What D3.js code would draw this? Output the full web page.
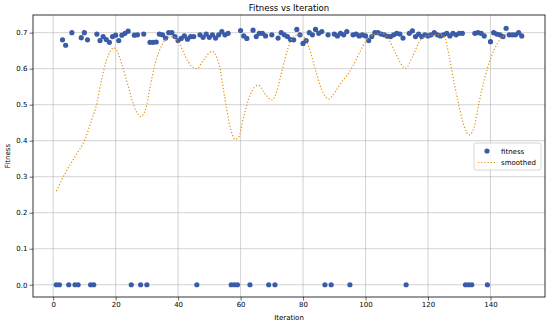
<!DOCTYPE html>
<html>
<head>
<meta charset="utf-8">
<script src="https://cdn.jsdelivr.net/npm/d3@7"></script>
<style>
  body { margin: 0; background: #fff; }
  text { font-family: "DejaVu Sans", sans-serif; fill: #000; }
</style>
</head>
<body>
<svg id="chart" width="550" height="325"></svg>
<script>
// fitness per iteration (1..150)
const fitness = [
  0, 0, 0.680, 0.665, 0, 0.700, 0, 0, 0.686, 0.700,
  0.680, 0, 0, 0.696, 0.678, 0.689, 0.681, 0.673, 0.689, 0.693,
  0.678, 0.693, 0.698, 0.704, 0, 0.693, 0.694, 0, 0.696, 0,
  0.673, 0.673, 0.674, 0.696, 0.694, 0.685, 0.700, 0.700, 0.689, 0.678,
  0.684, 0.691, 0.682, 0.689, 0.689, 0, 0.694, 0.687, 0.696, 0.687,
  0.694, 0.685, 0.694, 0.703, 0.694, 0.698, 0, 0, 0, 0.706,
  0.691, 0.684, 0, 0.707, 0.689, 0.698, 0.698, 0.691, 0, 0.694,
  0, 0.685, 0.700, 0.694, 0.689, 0.681, 0.680, 0.709, 0.694, 0.670,
  0.678, 0.700, 0.694, 0.709, 0.698, 0.703, 0, 0.694, 0, 0.696,
  0.691, 0.698, 0.694, 0.703, 0, 0.694, 0.696, 0.691, 0.694, 0.691,
  0.678, 0.689, 0.700, 0.700, 0.696, 0.694, 0.690, 0.689, 0.694, 0.698,
  0.696, 0.685, 0, 0.698, 0.705, 0.689, 0.696, 0.689, 0.694, 0.691,
  0.694, 0.700, 0.694, 0.691, 0.694, 0.698, 0.691, 0.698, 0.694, 0.698,
  0.698, 0, 0, 0, 0.698, 0.700, 0.698, 0.691, 0, 0.675,
  0.700, 0.696, 0.694, 0.689, 0.712, 0.694, 0.694, 0.694, 0.700, 0.691
];
const iterations = fitness.map((d, i) => i + 1);

// smoothed curve at these iterations
const smoothIter = [1, 4, 7.5, 10, 12.3, 14, 15.5, 17, 18.3, 19.4, 20.4, 22, 24, 26.5, 28, 29.5, 31, 32.7,
  34.8, 36, 38, 40, 42.3, 44.4, 46, 48, 50.8, 53, 55, 56.6, 58.3, 59.3, 61, 63.2, 65.6, 68, 70.1, 71.7,
  73.3, 75, 76.5, 78.6, 80.2, 81.8, 84, 86, 88.2, 90.3, 92.4, 94, 96, 98, 100, 102.2, 105.3, 107.5,
  109.6, 112.8, 115, 117.6, 119.7, 123.4, 125.2, 126.8, 128.4, 130, 131.6, 133.2, 134.8, 136.3, 138,
  140.1, 142.2, 144.3, 145];
const smoothVal = [0.260, 0.312, 0.363, 0.400, 0.457, 0.504, 0.569, 0.622, 0.648, 0.658, 0.650, 0.612, 0.552, 0.483, 0.467, 0.484, 0.548, 0.615,
  0.665, 0.681, 0.689, 0.676, 0.634, 0.606, 0.600, 0.622, 0.648, 0.615, 0.516, 0.440, 0.404, 0.408, 0.467, 0.530, 0.554, 0.528, 0.513, 0.540,
  0.596, 0.652, 0.684, 0.694, 0.689, 0.661, 0.596, 0.541, 0.516, 0.536, 0.564, 0.580, 0.608, 0.643, 0.675, 0.693, 0.698, 0.680,
  0.643, 0.601, 0.633, 0.680, 0.691, 0.694, 0.689, 0.633, 0.559, 0.494, 0.439, 0.416, 0.439, 0.504, 0.569,
  0.629, 0.670, 0.691, 0.695];

const xTicks = [0, 20, 40, 60, 80, 100, 120, 140];
const yTicks = [0.0, 0.1, 0.2, 0.3, 0.4, 0.5, 0.6, 0.7];

const plotLeft = 33, plotRight = 545, plotTop = 15, plotBottom = 297;

const svg = d3.select("#chart");

const x = d3.scaleLinear().domain([-6.45, 157.45]).range([plotLeft, plotRight]);
const y = d3.scaleLinear().domain([-0.034, 0.749]).range([plotBottom, plotTop]);

// grid
const grid = svg.append("g");
grid.selectAll(".gx").data(xTicks).enter().append("line")
  .attr("x1", d => x(d)).attr("x2", d => x(d))
  .attr("y1", plotTop).attr("y2", plotBottom)
  .attr("stroke", "#b0b0b0").attr("stroke-opacity", 0.7).attr("stroke-width", 0.8);
grid.selectAll(".gy").data(yTicks).enter().append("line")
  .attr("x1", plotLeft).attr("x2", plotRight)
  .attr("y1", d => y(d)).attr("y2", d => y(d))
  .attr("stroke", "#b0b0b0").attr("stroke-opacity", 0.7).attr("stroke-width", 0.8);

// axes
const xAxis = svg.append("g")
  .attr("transform", `translate(0,${plotBottom})`)
  .call(d3.axisBottom(x).tickValues(xTicks).tickSize(3.5).tickPadding(2).tickFormat(d3.format("d")));
const yAxis = svg.append("g")
  .attr("transform", `translate(${plotLeft},0)`)
  .call(d3.axisLeft(y).tickValues(yTicks).tickSize(3.5).tickPadding(2).tickFormat(d3.format(".1f")));
[xAxis, yAxis].forEach(a => {
  a.select(".domain").remove();
  a.selectAll("text").style("font-size", "7px").style("font-family", "DejaVu Sans");
  a.selectAll("line").attr("stroke", "#000").attr("stroke-width", 0.6);
});

// frame
svg.append("rect")
  .attr("x", plotLeft).attr("y", plotTop)
  .attr("width", plotRight - plotLeft).attr("height", plotBottom - plotTop)
  .attr("fill", "none").attr("stroke", "#000").attr("stroke-width", 0.8);

// fitness points
svg.append("g").selectAll("circle")
  .data(fitness)
  .enter().append("circle")
  .attr("cx", (d, i) => x(iterations[i]))
  .attr("cy", d => y(d))
  .attr("r", 2.6)
  .attr("fill", "#3a5ba8");

// smoothed line
const line = d3.line()
  .x((d, i) => x(smoothIter[i]))
  .y(d => y(d))
  .curve(d3.curveMonotoneX);
svg.append("path")
  .datum(smoothVal)
  .attr("d", line)
  .attr("fill", "none")
  .attr("stroke", "#e8900c")
  .attr("stroke-width", 1.2)
  .attr("stroke-dasharray", "1.2,2");

// title and labels
svg.append("text")
  .attr("x", (plotLeft + plotRight) / 2).attr("y", 11)
  .attr("text-anchor", "middle")
  .style("font-size", "8.5px")
  .text("Fitness vs Iteration");
svg.append("text")
  .attr("x", (plotLeft + plotRight) / 2).attr("y", 320)
  .attr("text-anchor", "middle")
  .style("font-size", "7px")
  .text("Iteration");
svg.append("text")
  .attr("transform", `translate(10,${(plotTop + plotBottom) / 2}) rotate(-90)`)
  .attr("text-anchor", "middle")
  .style("font-size", "7px")
  .text("Fitness");

// legend
const lg = svg.append("g").attr("transform", "translate(474,143)");
lg.append("rect")
  .attr("width", 67).attr("height", 27).attr("rx", 2)
  .attr("fill", "#fff").attr("fill-opacity", 0.8)
  .attr("stroke", "#ccc").attr("stroke-width", 0.8);
lg.append("circle").attr("cx", 13).attr("cy", 8).attr("r", 2.6).attr("fill", "#3a5ba8");
lg.append("text").attr("x", 27).attr("y", 10.5).style("font-size", "7px").text("fitness");
lg.append("line").attr("x1", 4).attr("x2", 22).attr("y1", 19.5).attr("y2", 19.5)
  .attr("stroke", "#e8900c").attr("stroke-width", 1.2).attr("stroke-dasharray", "1.2,2");
lg.append("text").attr("x", 27).attr("y", 22).style("font-size", "7px").text("smoothed");
</script>
</body>
</html>
